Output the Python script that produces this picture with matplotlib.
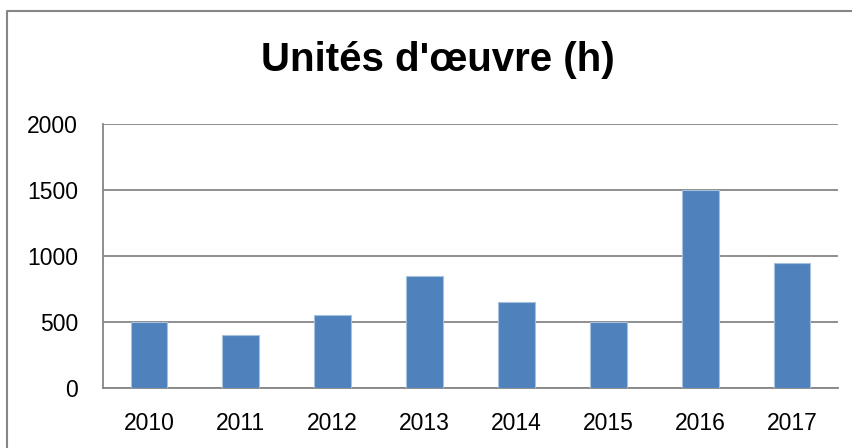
import matplotlib
matplotlib.use("Agg")
import matplotlib.pyplot as plt
from matplotlib.lines import Line2D

plt.rcParams["font.family"] = ["Liberation Sans", "DejaVu Sans"]

# données
annees = ["2010", "2011", "2012", "2013", "2014", "2015", "2016", "2017"]
heures = [500, 400, 550, 850, 650, 500, 1500, 950]
graduations = [0, 500, 1000, 1500, 2000]

gris = "#868686"
bleu = "#4F81BD"

fig = plt.figure(figsize=(8.53, 4.48), dpi=100)
ax = fig.add_axes([103 / 853, 1 - 388 / 448, 735 / 853, 264 / 448])

x = range(len(annees))
ax.bar(x, heures, width=0.4, color=bleu, edgecolor="#A7C0DE", linewidth=0.8, zorder=3)

ax.set_xlim(-0.5, len(annees) - 0.5)
ax.set_ylim(0, 2000)
ax.set_yticks(graduations)
ax.set_xticks(list(x))
ax.set_xticklabels(annees)
ax.yaxis.grid(True, color=gris, linewidth=1.3, zorder=0)
ax.tick_params(axis="both", length=0, labelsize=16.5)
ax.tick_params(axis="y", pad=18)
ax.tick_params(axis="x", pad=17)

for s in ["top", "right"]:
    ax.spines[s].set_visible(False)
for s in ["left", "bottom"]:
    ax.spines[s].set_color(gris)
    ax.spines[s].set_linewidth(1.3)

fig.text(438 / 853, 1 - 60 / 448, "Unités d'œuvre (h)", ha="center", va="center",
         fontsize=29, fontweight="bold")

# cadre du graphique
x0 = 7.5 / 853
y0 = 1 - 11.5 / 448
fig.add_artist(Line2D([x0, x0, 1.0], [0.0, y0, y0], color=gris, linewidth=1.5,
                      transform=fig.transFigure))

fig.savefig("out.png", dpi=100)
